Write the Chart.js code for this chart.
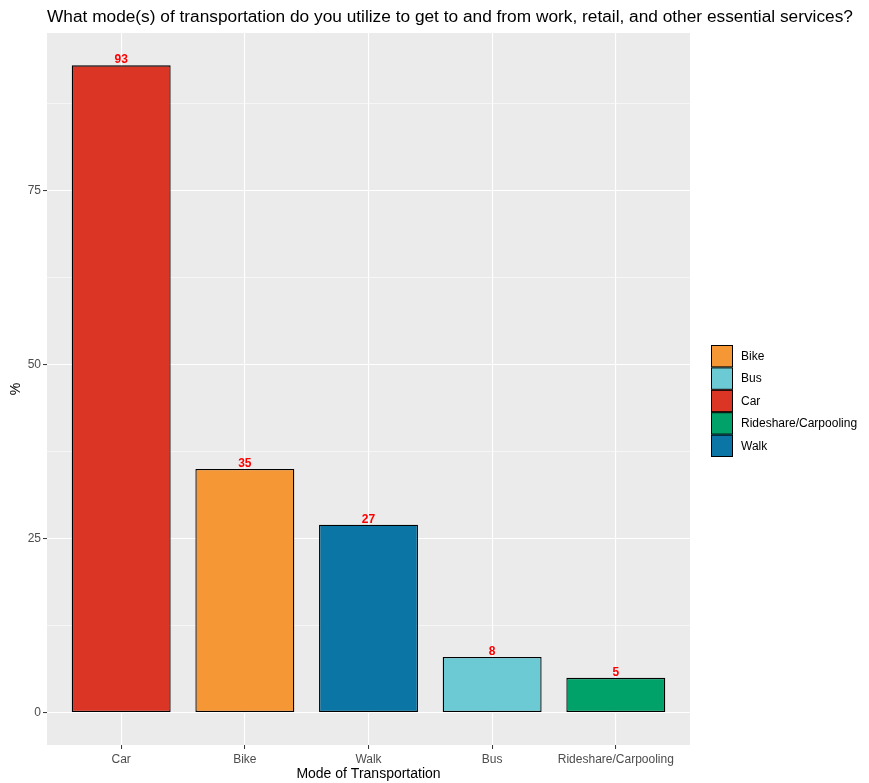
<!DOCTYPE html>
<html>
<head>
<meta charset="utf-8">
<script src="https://cdn.jsdelivr.net/npm/chart.js@4.4.0/dist/chart.umd.min.js"></script>
<style>
  body { margin: 0; background: #fff; }
</style>
</head>
<body>
<canvas id="myChart" width="869" height="783"></canvas>
<script>
// data
var categories = ["Car", "Bike", "Walk", "Bus", "Rideshare/Carpooling"];
var percents = [93, 35, 27, 8, 5];
var barColors = ["#DB3526", "#F69735", "#0B75A5", "#6BCAD4", "#00A269"];
var legendOrder = ["Bike", "Bus", "Car", "Rideshare/Carpooling", "Walk"];
var yMajor = [0, 25, 50, 75];
var yMinor = [12.5, 37.5, 62.5, 87.5];

var FONT = "'Liberation Sans', Arial, sans-serif";

//panel background + extra text
var ggPlugin = {
  id: "gg",
  beforeDraw: function (chart) {
    var a = chart.chartArea;
    var ctx = chart.ctx;
    ctx.save();
    ctx.fillStyle = "#EBEBEB";
    ctx.fillRect(a.left, a.top, a.right - a.left, a.bottom - a.top);
    ctx.restore();
  },
  afterDraw: function (chart) {
    var ctx = chart.ctx;
    var a = chart.chartArea;
    ctx.save();

    // title
    ctx.fillStyle = "#000";
    ctx.font = "17.3px " + FONT;
    ctx.textAlign = "left";
    ctx.textBaseline = "middle";
    ctx.fillText("What mode(s) of transportation do you utilize to get to and from work, retail, and other essential services?", a.left, 17);

    // axis titles
    ctx.font = "14px " + FONT;
    ctx.textAlign = "center";
    ctx.fillText("Mode of Transportation", (a.left + a.right) / 2, 774);
    ctx.save();
    ctx.translate(16, (a.top + a.bottom) / 2);
    ctx.rotate(-Math.PI / 2);
    ctx.fillText("%", 0, 0);
    ctx.restore();

    // value labels
    var meta = chart.getDatasetMeta(0);
    ctx.fillStyle = "#FF0000";
    ctx.font = "bold 12px " + FONT;
    ctx.textBaseline = "alphabetic";
    meta.data.forEach(function (bar, i) {
      ctx.fillText(String(percents[i]), bar.x, bar.y - 2);
    });

    // legend
    var kx = 711, ky = 345, kw = 22, kh = 22.4;
    ctx.font = "12px " + FONT;
    ctx.textAlign = "left";
    ctx.textBaseline = "middle";
    legendOrder.forEach(function (name, i) {
      var c = barColors[categories.indexOf(name)];
      var y = ky + i * kh;
      ctx.fillStyle = c;
      ctx.fillRect(kx, y, kw, kh);
      ctx.strokeStyle = "#000";
      ctx.lineWidth = 1;
      ctx.strokeRect(kx + 0.5, y + 0.5, kw - 1, kh - 1);
      ctx.fillStyle = "#000";
      ctx.fillText(name, 741, y + kh / 2 + 0.5);
    });

    ctx.restore();
  },
};

var points = categories.map(function (c, i) {
  return { x: i + 1, y: percents[i] };
});

var ctx = document.getElementById("myChart").getContext("2d");
var chart = new Chart(ctx, {
  type: "bar",
  data: {
    datasets: [
      {
        data: points,
        backgroundColor: barColors,
        borderColor: "#000000",
        borderWidth: 1.3,
        borderSkipped: false,
        barPercentage: 0.8,
        categoryPercentage: 1.0,
      },
    ],
  },
  options: {
    responsive: false,
    animation: false,
    layout: { padding: { top: 33, left: 0, right: 179, bottom: 0 } },
    plugins: {
      legend: { display: false },
      title: { display: false },
      tooltip: { enabled: false },
    },
    scales: {
      x: {
        type: "linear",
        min: 0.4,
        max: 5.6,
        offset: false,
        afterBuildTicks: function (s) {
          s.ticks = categories.map(function (c, i) {
            return { value: i + 1 };
          });
        },
        afterFit: function (s) {
          s.height = 38;
        },
        ticks: {
          autoSkip: false,
          maxRotation: 0,
          padding: 3,
          color: "#4D4D4D",
          font: { family: FONT, size: 12 },
          callback: function (v) {
            return categories[v - 1];
          },
        },
        grid: {
          offset: false,
          color: "#FFFFFF",
          lineWidth: 1.1,
          tickLength: 4,
          tickColor: "#333333",
          tickWidth: 1,
        },
        border: { display: false },
      },
      y: {
        min: -4.65,
        max: 97.65,
        afterBuildTicks: function (s) {
          s.ticks = yMajor.concat(yMinor).sort(function (a, b) { return a - b; }).map(function (v) {
            return { value: v };
          });
        },
        afterFit: function (s) {
          s.width = 47;
        },
        ticks: {
          padding: 2,
          color: "#4D4D4D",
          font: { family: FONT, size: 12 },
          callback: function (v) {
            return yMajor.indexOf(v) >= 0 ? String(v) : "";
          },
        },
        grid: {
          color: "#FFFFFF",
          lineWidth: function (c) {
            return c.tick && yMajor.indexOf(c.tick.value) >= 0 ? 1.1 : 0.55;
          },
          tickLength: 4,
          tickColor: function (c) {
            return c.tick && yMajor.indexOf(c.tick.value) >= 0 ? "#333333" : "rgba(0,0,0,0)";
          },
          tickWidth: 1,
        },
        border: { display: false },
      },
    },
  },
  plugins: [ggPlugin],
});
</script>
</body>
</html>
